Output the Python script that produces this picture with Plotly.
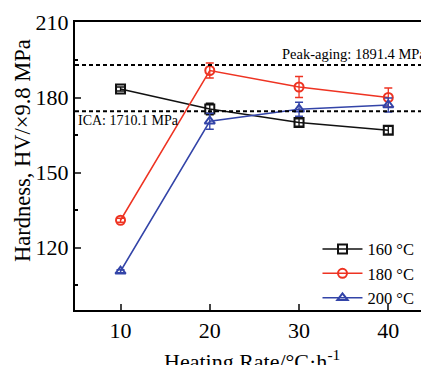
import plotly.graph_objects as go

rates = [10, 20, 30, 40]
series_names = ["160 °C", "180 °C", "200 °C"]
hv_160 = [183.4, 175.4, 170.0, 166.9]
err_160 = [0.8, 2.3, 1.5, 1.6]
hv_180 = [130.9, 190.8, 184.2, 180.0]
err_180 = [0.8, 3.0, 4.2, 3.8]
hv_200 = [110.5, 170.5, 175.3, 177.0]
err_200 = [0.6, 3.2, 2.8, 2.8]
colors = ["#111111", "#ee3322", "#3344a8"]
symbols = ["square-open", "circle-open", "triangle-up-open"]

peak_val = 1891.4 / 9.8
ica_val = 1710.1 / 9.8

font_family = "Liberation Serif, Times New Roman, serif"

fig = go.Figure()
for name, ys, es, c, s in zip(series_names, [hv_160, hv_180, hv_200],
                              [err_160, err_180, err_200], colors, symbols):
    fig.add_trace(go.Scatter(
        x=rates, y=ys, name=name, mode="lines+markers",
        line=dict(color=c, width=1.5),
        marker=dict(symbol=s, size=9, color=c, line=dict(width=2, color=c)),
        error_y=dict(type="data", array=es, visible=True, color=c,
                     thickness=1.3, width=4),
    ))

fig.add_hline(y=peak_val, line=dict(color="black", width=1.8, dash="4px,3px"))
fig.add_hline(y=ica_val, line=dict(color="black", width=1.8, dash="4px,3px"))

fig.add_annotation(x=1, xref="paper", y=peak_val, yref="y",
                   text="Peak-aging: 1891.4 MPa", showarrow=False,
                   xanchor="right", yanchor="bottom", yshift=1, xshift=-1,
                   font=dict(family=font_family, size=14.5, color="black"))
fig.add_annotation(x=0, xref="paper", y=ica_val, yref="y",
                   text="ICA: 1710.1 MPa", showarrow=False,
                   xanchor="left", yanchor="top", xshift=1, yshift=0,
                   font=dict(family=font_family, size=14, color="black"))
# axis titles placed as text to match the reference positions
fig.add_annotation(x=0, xref="paper", y=0.552, yref="paper",
                   text="Hardness, HV/×9.8 MPa", showarrow=False,
                   textangle=-90, xanchor="center", yanchor="middle",
                   xshift=-53,
                   font=dict(family=font_family, size=22.5, color="black"))
fig.add_annotation(x=0.5, xref="paper", y=0, yref="paper",
                   text="Heating Rate/°C·h<sup>-1</sup>", showarrow=False,
                   xanchor="center", yanchor="top", yshift=-34,
                   font=dict(family=font_family, size=22, color="black"))

fig.update_layout(
    width=421, height=357,
    margin=dict(l=67, r=0, t=14, b=55, autoexpand=False),
    paper_bgcolor="white", plot_bgcolor="white",
    font=dict(family=font_family, color="black", size=22),
    showlegend=True,
    legend=dict(x=0.685, y=0.272, xanchor="left", yanchor="top",
                bgcolor="rgba(0,0,0,0)", font=dict(size=16.5),
                tracegroupgap=0, itemwidth=40),
    xaxis=dict(range=[4.9, 44.56], tickvals=rates, ticks="inside", ticklen=6,
               tickwidth=2, showline=True, linewidth=2, linecolor="black",
               mirror=True, showgrid=False, zeroline=False, automargin=False,
               tickfont=dict(size=22)),
    yaxis=dict(range=[95, 210.2], tickvals=[120, 150, 180, 210], ticks="inside",
               ticklen=6, tickwidth=2, showline=True, linewidth=2,
               linecolor="black", showgrid=False, zeroline=False, automargin=False,
               minor=dict(tickvals=[105, 135, 165, 195], ticks="inside",
                          ticklen=3, tickwidth=2, tickcolor="black"),
               tickfont=dict(size=22)),
)

fig.write_html("out.html")
